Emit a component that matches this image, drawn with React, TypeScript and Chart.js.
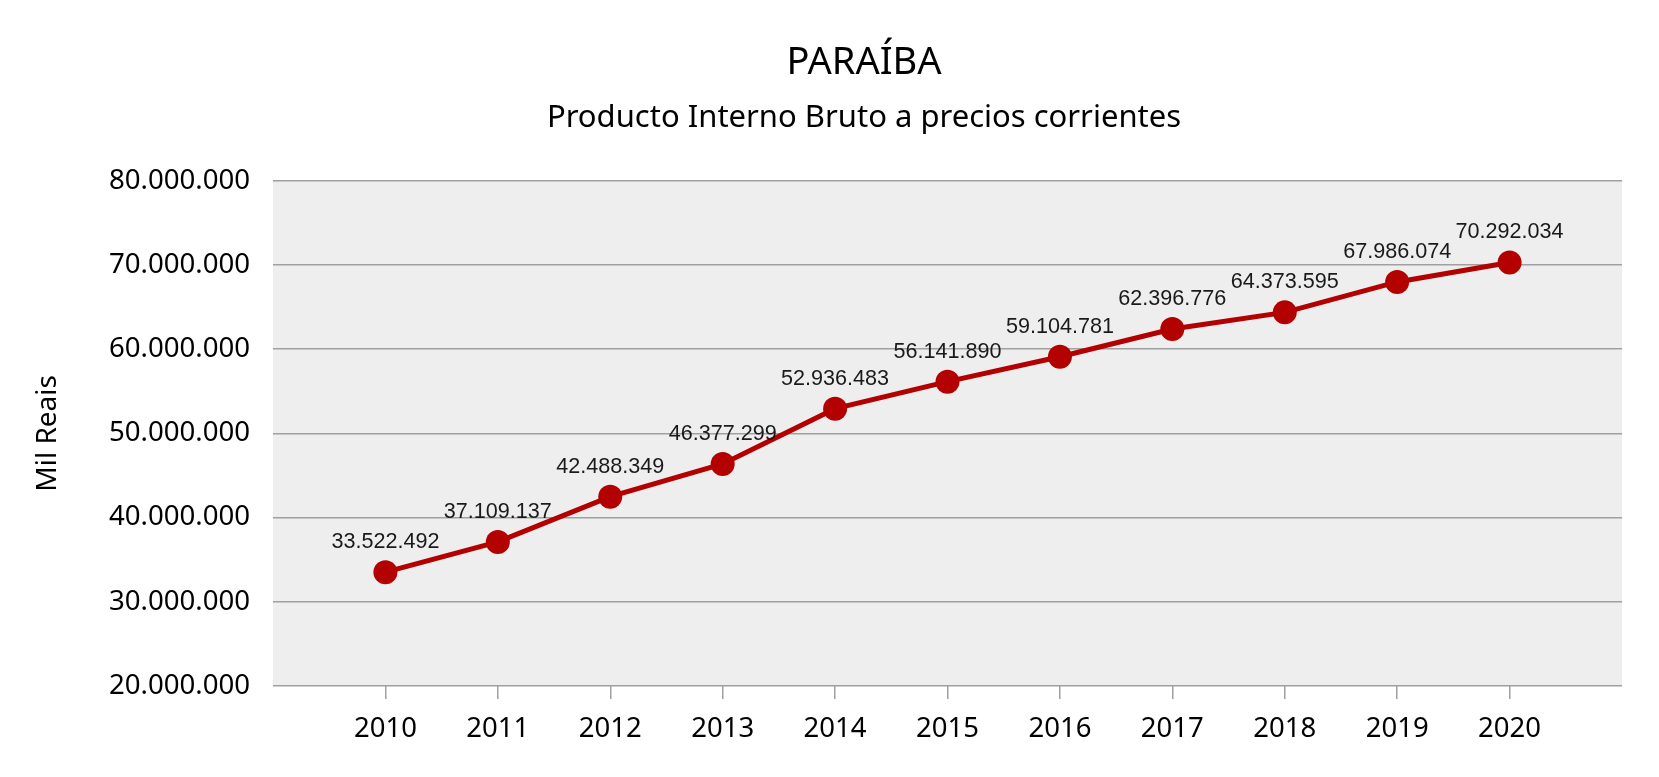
import React, { useEffect, useRef } from 'react';
import { Chart, registerables } from 'chart.js';

Chart.register(...registerables);

const years: number[] = [2010, 2011, 2012, 2013, 2014, 2015, 2016, 2017, 2018, 2019, 2020];
const pibValues: number[] = [
  33522492, 37109137, 42488349, 46377299, 52936483, 56141890,
  59104781, 62396776, 64373595, 67986074, 70292034,
];
const yMin = 20000000;
const yMax = 80000000;
const yStep = 10000000;
const chartTitle = 'PARAÍBA';
const chartSubtitle = 'Producto Interno Bruto a precios corrientes';
const yAxisTitle = 'Mil Reais';

const fmt = (v: number) =>
  Math.round(v).toString().replace(/\B(?=(\d{3})+(?!\d))/g, '.');

const LINE_COLOR = '#b30000';
const GRID_COLOR = '#a0a0a0';
const SANS = "'Noto Sans', 'Open Sans', sans-serif";

const bgPlugin = {
  id: 'plotBg',
  beforeDraw(chart: any) {
    const { ctx, chartArea } = chart;
    if (!chartArea) return;
    ctx.save();
    ctx.fillStyle = '#eeeeee';
    ctx.fillRect(chartArea.left, chartArea.top, chartArea.right - chartArea.left, chartArea.bottom - chartArea.top);
    ctx.restore();
  },
};

const valueLabelPlugin = {
  id: 'valueLabels',
  afterDatasetsDraw(chart: any) {
    const { ctx } = chart;
    const meta = chart.getDatasetMeta(0);
    const data = chart.data.datasets[0].data as { x: number; y: number }[];
    ctx.save();
    ctx.font = "21.6px 'Liberation Sans', Arial, sans-serif";
    ctx.fillStyle = '#1a1a1a';
    ctx.textAlign = 'center';
    ctx.textBaseline = 'middle';
    meta.data.forEach((pt: any, i: number) => {
      ctx.fillText(fmt(data[i].y), pt.x, pt.y - 30);
    });
    ctx.restore();
  },
};

export default function App() {
  const canvasRef = useRef<HTMLCanvasElement | null>(null);

  useEffect(() => {
    if (!canvasRef.current) return;
    const chart = new Chart(canvasRef.current, {
      type: 'line',
      data: {
        datasets: [
          {
            label: 'PIB',
            data: years.map((y, i) => ({ x: y, y: pibValues[i] })),
            borderColor: LINE_COLOR,
            backgroundColor: LINE_COLOR,
            borderWidth: 5,
            pointRadius: 12,
            pointHoverRadius: 12,
            pointBackgroundColor: LINE_COLOR,
            pointBorderWidth: 0,
            tension: 0,
          },
        ],
      },
      options: {
        responsive: false,
        animation: false,
        events: [],
        layout: { padding: { left: 98, right: 29, top: 0, bottom: 0 } },
        plugins: {
          legend: { display: false },
          tooltip: { enabled: false },
          title: {
            display: true,
            text: chartTitle,
            color: '#000',
            font: { family: SANS, size: 38, weight: 'normal' },
            padding: { top: 32, bottom: 0 },
          },
          subtitle: {
            display: true,
            text: chartSubtitle,
            color: '#000',
            font: { family: SANS, size: 31, weight: 'normal' },
            padding: { top: 14, bottom: 44 },
          },
        },
        scales: {
          x: {
            type: 'linear',
            min: years[0] - 1,
            max: years[years.length - 1] + 1,
            offset: false,
            afterBuildTicks: (scale: any) => {
              scale.ticks = years.map((y) => ({ value: y }));
            },
            afterFit: (scale: any) => {
              scale.height = 83;
            },
            ticks: {
              stepSize: 1,
              color: '#000',
              padding: 14,
              font: { family: SANS, size: 27.5 },
              callback: (v: any) => String(v),
              maxRotation: 0,
              autoSkip: false,
            },
            grid: {
              drawOnChartArea: false,
              drawTicks: true,
              tickLength: 13,
              color: GRID_COLOR,
              lineWidth: 1.5,
            },
            border: { display: false },
          },
          y: {
            min: yMin,
            max: yMax,
            afterFit: (scale: any) => {
              scale.width = 167;
            },
            ticks: {
              stepSize: yStep,
              color: '#000',
              padding: 23,
              font: { family: SANS, size: 27.6 },
              callback: (v: any) => fmt(Number(v)),
            },
            grid: {
              color: GRID_COLOR,
              lineWidth: 1.5,
              drawTicks: false,
            },
            border: { display: false },
            title: {
              display: true,
              text: yAxisTitle,
              color: '#000',
              font: { family: SANS, size: 28 },
              padding: { top: -74.8, bottom: 4 },
            },
          },
        },
      },
      plugins: [bgPlugin, valueLabelPlugin],
    } as any);
    return () => chart.destroy();
  }, []);

  return (
    <div>
      <canvas ref={canvasRef} width={1643} height={761} style={{ display: 'block' }} />
    </div>
  );
}
